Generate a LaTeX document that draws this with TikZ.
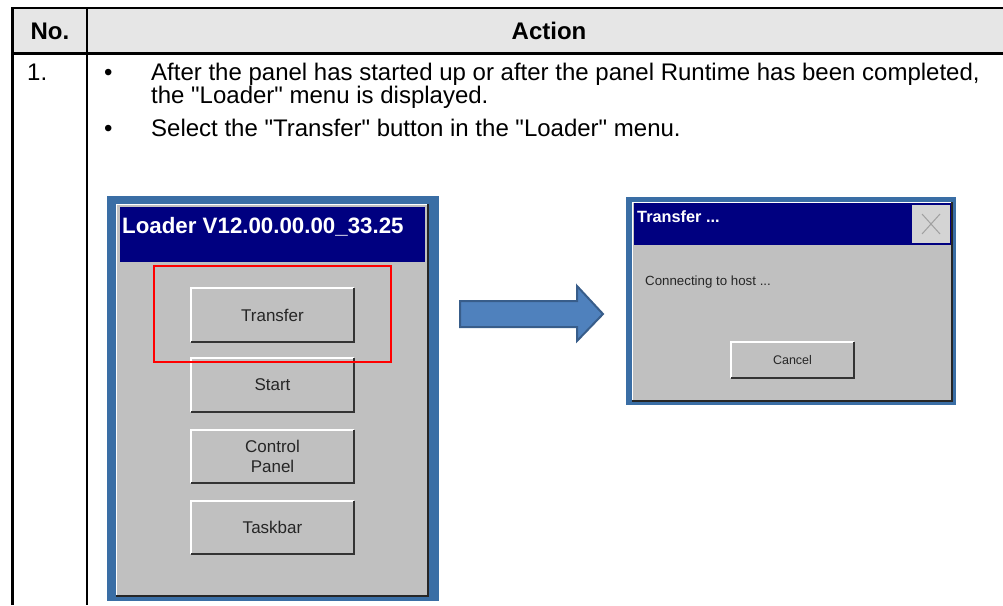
\documentclass[tikz,border=0pt]{standalone}
\usepackage{fontspec}
\setmainfont{Liberation Sans}
\newfontfamily\arialq{Liberation Sans}
\definecolor{hdrgray}{HTML}{E6E6E6}
\definecolor{desk}{HTML}{3A6EA5}
\definecolor{navy}{HTML}{000080}
\definecolor{wingray}{HTML}{C0C0C0}
\definecolor{arrfill}{HTML}{4F81BD}
\definecolor{arrline}{HTML}{385D8A}
\definecolor{closegray}{HTML}{D4D4D4}
\definecolor{xgray}{HTML}{A0A0A0}
\tikzset{
  tline/.style={line width=2.5pt, black},
  hdrtext/.style={font=\fontsize{24}{28}\selectfont\bfseries, inner sep=0pt},
  bodytext/.style={font=\arialq\fontsize{24}{28}\selectfont, inner sep=0pt, anchor=base west},
  btntext/.style={font=\fontsize{17}{20}\selectfont, text=black!85, inner sep=0pt, align=center},
  titletext/.style={text=white, inner sep=0pt, anchor=base west},
  hilite/.style={draw=red, line width=2.5pt},
}
\newcommand{\winbutton}[5]{% name, x1, y1, x2, y2
  \fill[wingray] (#2,#3) rectangle (#4,#5);
  \draw[white, line width=1.2pt] (#2,#5) -- (#2,#3) -- (#4,#3);
  \draw[black!80, line width=2pt] (#2,#5) -- (#4,#5) -- (#4,#3);
  \coordinate (#1) at ({(#2+#4)/2},{(#3+#5)/2});
}
\begin{document}
\begin{tikzpicture}[x=1pt,y=-1pt]
\useasboundingbox (0,0) rectangle (1003,605);
% ---- table ----
\fill[hdrgray] (12,8) rectangle (1003,53);
\draw[tline] (11,8) -- (1003,8);
\draw[line width=3pt] (11,53) -- (1003,53);
\draw[tline] (12.5,8) -- (12.5,605);
\draw[tline] (87,8) -- (87,605);
\node[hdrtext] (hno) at (50,31) {No.};
\node[hdrtext] (hact) at (549,31) {Action};
\node[bodytext] (num) at (27,80) {1.};
\node[bodytext] (b1) at (104,80) {•};
\node[bodytext] (l1) at (151,80) {After the panel has started up or after the panel Runtime has been completed,};
\node[bodytext] (l2) at (151,103) {the "Loader" menu is displayed.};
\node[bodytext] (b2) at (104,136) {•};
\node[bodytext] (l3) at (151,136) {Select the "Transfer" button in the "Loader" menu.};
% ---- loader screenshot ----
\fill[desk] (107,196) rectangle (439,601);
\fill[wingray] (116,204) rectangle (429,597);
\draw[white, line width=1.5pt] (116.5,597) -- (116.5,204.5) -- (429,204.5);
\draw[black!85, line width=2.5pt] (116,596) -- (428,596) -- (428,204);
\fill[navy] (120,207) rectangle (425,262);
\node[titletext, font=\fontsize{22.3}{25}\selectfont\bfseries] (ltitle) at (122,233) {Loader V12.00.00.00\_33.25};
\winbutton{btrans}{191}{288}{354}{342}
\winbutton{bstart}{191}{358}{354}{412}
\winbutton{bctrl}{191}{430}{354}{483}
\winbutton{btask}{191}{501}{354}{554}
\node[btntext] (ttrans) at (btrans) {Transfer};
\node[btntext] (tstart) at (bstart) {Start};
\node[btntext] (tctrl) at (bctrl) {Control\\Panel};
\node[btntext] (ttask) at (btask) {Taskbar};
\draw[hilite] (154,266) rectangle (391,362);
% ---- arrow ----
\filldraw[fill=arrfill, draw=arrline, line width=2pt, line join=miter]
  (460,301) -- (577,301) -- (577,286) -- (603,314) -- (577,341) -- (577,327) -- (460,327) -- cycle;
% ---- transfer dialog ----
\fill[desk] (626,197) rectangle (956,405);
\fill[wingray] (632,202) rectangle (953,402);
\draw[white, line width=1.5pt] (632.5,402) -- (632.5,202.5) -- (953,202.5);
\draw[black!85, line width=2.5pt] (632,401) -- (952,401) -- (952,202);
\fill[navy] (634,203) rectangle (951,245);
\fill[closegray] (912,205) rectangle (950,243);
\draw[xgray, line width=1pt] (922,214) -- (940,234) (940,214) -- (922,234);
\node[titletext, font=\fontsize{16.3}{19}\selectfont\bfseries] (dtitle) at (637,222) {Transfer ...};
\node[inner sep=0pt, anchor=base west, font=\fontsize{13.3}{16}\selectfont, text=black!85] (conn) at (645,285) {Connecting to host ...};
\winbutton{bcancel}{731}{342}{854}{378}
\node[btntext, font=\fontsize{12.5}{15}\selectfont] (tcancel) at (bcancel) {Cancel};
\end{tikzpicture}
\end{document}
